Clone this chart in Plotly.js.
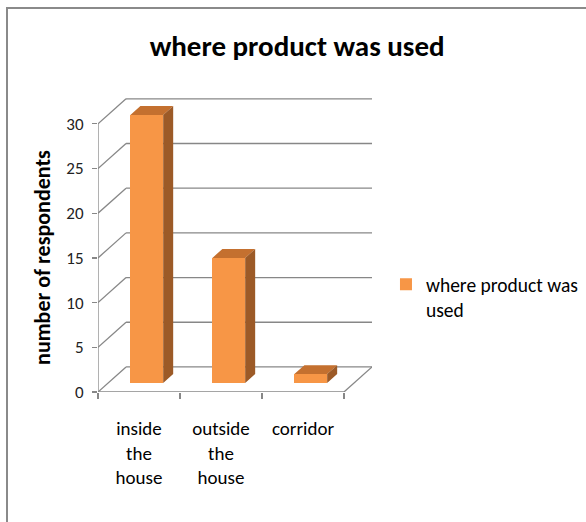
<!DOCTYPE html>
<html>
<head>
<meta charset="utf-8">
<script src="https://cdn.plot.ly/plotly-3.0.1.min.js"></script>
<style>
  html, body { margin: 0; padding: 0; background: #fff; }
  #wrap { position: relative; width: 586px; height: 522px; overflow: hidden; }
  #chart { width: 586px; height: 522px; }
  #frame { position: absolute; left: 6px; top: 7px; right: -4px; bottom: -4px;
           border-left: 2px solid #8a8a8a; border-top: 2px solid #8a8a8a; pointer-events: none; }
</style>
</head>
<body>
<div id="wrap"><div id="chart"></div><div id="frame"></div></div>
<script>
// ---- data ----
const categories = ['inside the house', 'outside the house', 'corridor'];
const values = [30, 14, 1];
const seriesName = 'where product was used';
const yTickValues = [0, 5, 10, 15, 20, 25, 30];
const chartTitle = 'where product was used';
const yAxisTitle = 'number of respondents';

// ---- styling / geometry constants (oblique 3D look) ----
const FONT = "Carlito, 'Liberation Sans Narrow', 'DejaVu Sans Condensed', 'Liberation Sans', sans-serif";
const DX = 0.342, DY = 2.8;          // back wall offset (x in category units, y in value units)
const BAR_OFF_X = 0.095, BAR_BASE = 1.0, BAR_W = 0.40; // bar front plane
const BAR_DX = 0.122, BAR_DY = 1.0;  // bar depth
const GRID = '#878787';
const FRONT = '#F79646', TOP = '#C4702F', SIDE = '#9C5A27';

const n = categories.length;
const xMin = -0.5, xMax = n - 0.5;
const yMax = yTickValues[yTickValues.length - 1];
const tickText = categories.map(c => c.split(' ').join('<br>'));
const boundaries = Array.from({length: n + 1}, (_, i) => i - 0.5);

// shapes: back wall grid, side diagonals, floor, front axis
const shapes = [];
const line = (x0, y0, x1, y1) => ({type: 'line', xref: 'x', yref: 'y', x0, y0, x1, y1,
  layer: 'below', line: {color: GRID, width: 1.3}});
yTickValues.forEach(t => {
  shapes.push(line(xMin + DX, t + DY, xMax + DX, t + DY));
  shapes.push(line(xMin, t, xMin + DX, t + DY));
});
shapes.push(line(xMin, 0, xMin, yMax));
shapes.push(line(xMin, 0, xMax, 0));
shapes.push(line(xMax, 0, xMax + DX, DY));

// 3D faces of bars, derived from values
const topX = [], topY = [], sideX = [], sideY = [];
values.forEach((v, i) => {
  const cx = i + BAR_OFF_X, l = cx - BAR_W / 2, r = cx + BAR_W / 2;
  const b = BAR_BASE, t = BAR_BASE + v;
  topX.push(l, r, r + BAR_DX, l + BAR_DX, l, null);
  topY.push(t, t, t + BAR_DY, t + BAR_DY, t, null);
  sideX.push(r, r, r + BAR_DX, r + BAR_DX, r, null);
  sideY.push(b, t, t + BAR_DY, b + BAR_DY, b, null);
});

const traces = [
  {type: 'bar', x: values.map((_, i) => i + BAR_OFF_X), y: values, base: BAR_BASE,
   width: BAR_W, marker: {color: FRONT, line: {width: 0}},
   name: seriesName.replace(/ (\S+)$/, '<br>$1'), showlegend: true, hoverinfo: 'skip'},
  {type: 'scatter', mode: 'lines', x: topX, y: topY, fill: 'toself', fillcolor: TOP,
   line: {width: 0, color: TOP}, showlegend: false, hoverinfo: 'skip'},
  {type: 'scatter', mode: 'lines', x: sideX, y: sideY, fill: 'toself', fillcolor: SIDE,
   line: {width: 0, color: SIDE}, showlegend: false, hoverinfo: 'skip'}
];

const layout = {
  width: 586, height: 522,
  margin: {l: 98, r: 214, t: 97, b: 130, pad: 0, autoexpand: false},
  paper_bgcolor: '#fff', plot_bgcolor: 'rgba(0,0,0,0)',
  font: {family: FONT, color: '#000'},
  title: {text: chartTitle, font: {family: FONT, size: 29, weight: 'bold', color: '#000'},
          x: 0.507, xanchor: 'center', xref: 'container', y: 1 - 46 / 522, yanchor: 'middle', yref: 'container'},
  xaxis: {range: [xMin, xMax + DX], tickmode: 'array', tickvals: categories.map((_, i) => i),
          ticktext: tickText, ticks: '', showline: false, showgrid: false, zeroline: false,
          tickfont: {family: FONT, size: 19, color: '#000'}, ticklabelstandoff: 23,
          minor: {tickmode: 'array', tickvals: boundaries, ticks: 'outside', ticklen: 6,
                  tickcolor: GRID, tickwidth: 1.3, showgrid: false},
          automargin: false, fixedrange: true},
  yaxis: {range: [0, yMax + 3], tickmode: 'array', tickvals: yTickValues,
          ticks: 'outside', ticklen: 5, tickcolor: GRID, tickwidth: 1.3,
          showline: false, showgrid: false, zeroline: false, ticklabelstandoff: 5,
          tickfont: {family: FONT, size: 17, color: '#222'}, automargin: false, fixedrange: true},
  shapes: shapes,
  annotations: [{text: yAxisTitle, xref: 'x', yref: 'y', x: xMin, y: yMax / 2, xshift: -55,
                 textangle: -90, showarrow: false, xanchor: 'center', yanchor: 'middle',
                 font: {family: FONT, size: 22, weight: 'bold', color: '#000'}}],
  legend: {x: 1.051, xanchor: 'left', y: 0.43, yanchor: 'top', valign: 'top',
           font: {family: FONT, size: 19.5, color: '#000'}, itemwidth: 30,
           bgcolor: 'rgba(0,0,0,0)'},
  hovermode: false,
  bargap: 0
};

Plotly.newPlot('chart', traces, layout, {displayModeBar: false, staticPlot: true});
</script>
</body>
</html>
